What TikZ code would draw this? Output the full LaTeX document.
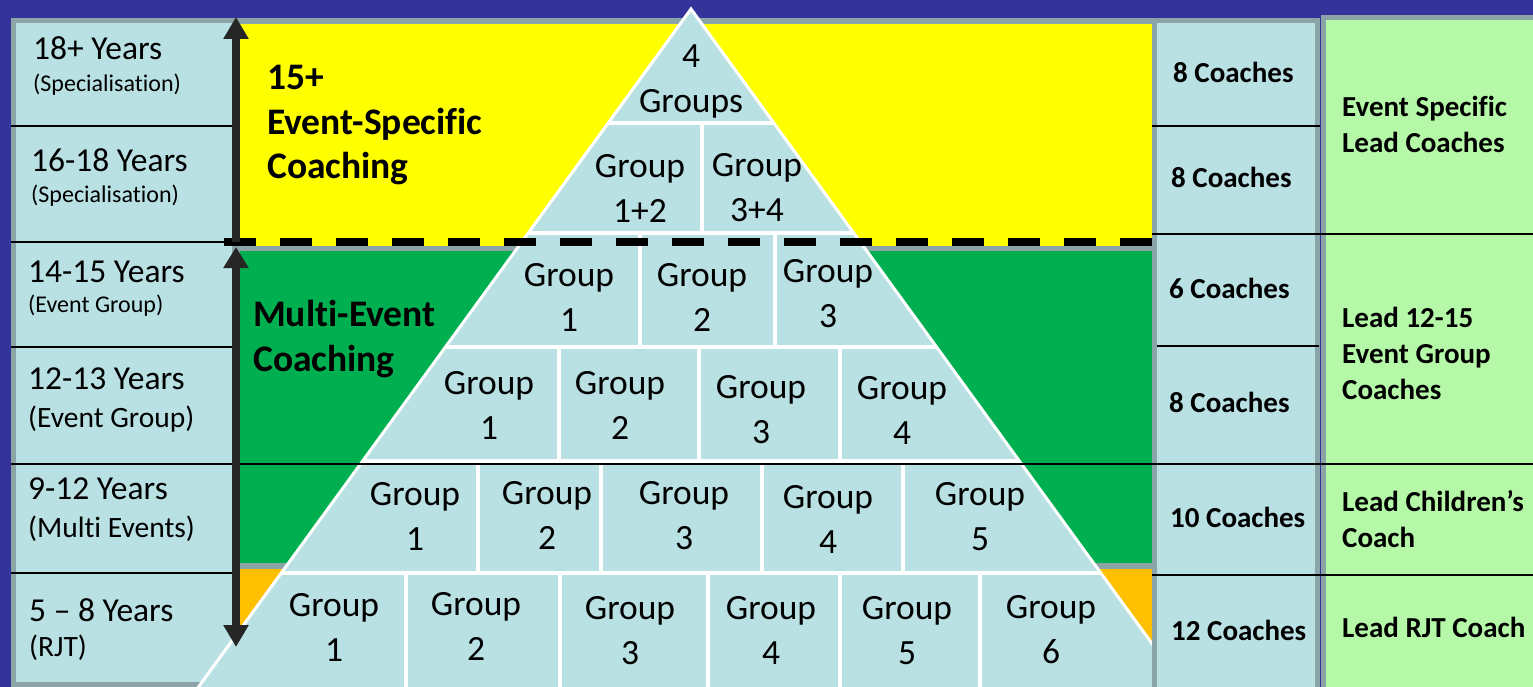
\documentclass[tikz,border=0pt]{standalone}
\usepackage{fontspec}
\setmainfont{Carlito}[Ligatures=NoCommon]
\usetikzlibrary{arrows.meta}
\definecolor{bgblue}{RGB}{51,51,153}
\definecolor{cellblue}{RGB}{185,224,227}
\definecolor{rimgray}{RGB}{139,164,168}
\definecolor{ylw}{RGB}{255,255,0}
\definecolor{grn}{RGB}{0,176,80}
\definecolor{orng}{RGB}{255,192,0}
\definecolor{lgreen}{RGB}{181,249,168}
\definecolor{arrowgray}{RGB}{38,38,38}
\tikzset{
  age/.style={anchor=base west, inner sep=0pt, font=\fontsize{33.5}{38}\selectfont},
  agesub/.style={anchor=base west, inner sep=0pt, font=\fontsize{24}{28}\selectfont},
  agesubl/.style={anchor=base west, inner sep=0pt, font=\fontsize{29.5}{34}\selectfont},
  grp/.style={align=center, inner sep=0pt, font=\fontsize{35.5}{45}\selectfont},
  band/.style={anchor=north west, align=left, inner sep=0pt, font=\fontsize{37.5}{44.5}\selectfont\bfseries},
  coach/.style={anchor=base west, inner sep=0pt, font=\fontsize{29}{34}\selectfont\bfseries},
  lead/.style={anchor=north west, align=left, inner sep=0pt, font=\fontsize{29}{36}\selectfont\bfseries},
  leadone/.style={anchor=base west, inner sep=0pt, font=\fontsize{29}{36}\selectfont\bfseries},
  rowline/.style={black, line width=1.5pt},
  wline/.style={white, line width=4pt},
  bigarrow/.style={arrowgray, line width=8pt},
}
\begin{document}
\begin{tikzpicture}[x=1pt,y=-1pt]
\useasboundingbox (0,0) rectangle (1533,687);
% background
\fill[bgblue] (0,0) rectangle (1533,687);
% left column
\fill[rimgray] (11,18) rectangle (236,687);
\fill[cellblue] (16,23) rectangle (232,682);
% middle bands
\fill[rimgray] (236,18) rectangle (1157,687);
\fill[ylw] (240,24) rectangle (1152,246);
\fill[grn] (240,251) rectangle (1152,563);
\fill[orng] (240,569) rectangle (1152,687);
% pyramid
\begin{scope}
  \clip (0,0) rectangle (1152,687);
  \fill[cellblue] (691,9) -- (189,700) -- (1193,700) -- cycle;
  \begin{scope}
    \clip (691,9) -- (189,700) -- (1193,700) -- cycle;
    \foreach \y in {123,233,347,461,573} \draw[wline] (150,\y) -- (1250,\y);
    \draw[wline] (702,123) -- (702,233);
    \foreach \x in {640,775} \draw[wline] (\x,233) -- (\x,347);
    \foreach \x in {559,699,840} \draw[wline] (\x,347) -- (\x,461);
    \foreach \x in {478,601,762,903} \draw[wline] (\x,461) -- (\x,573);
    \foreach \x in {406,560,708,840,980} \draw[wline] (\x,573) -- (\x,700);
  \end{scope}
  \draw[white, line width=3pt] (189,700) -- (691,9) -- (1193,700);
\end{scope}
% right coach column
\fill[rimgray] (1152,18) rectangle (1320,687);
\fill[cellblue] (1157,23) rectangle (1315,687);
% lead column
\fill[rimgray] (1320,15) rectangle (1533,687);
\fill[lgreen] (1326,20) rectangle (1533,687);
\draw[bgblue, line width=1pt] (1320,15) -- (1320,687);
% separator lines
\draw[rowline] (11,126) -- (232,126);
\draw[rowline] (11,242) -- (232,242);
\draw[rowline] (11,347) -- (232,347);
\draw[rowline] (11,464) -- (1533,464);
\draw[rowline] (11,573) -- (232,573);
\draw[rowline] (1152,126) -- (1320,126);
\draw[rowline] (1152,234) -- (1533,234);
\draw[rowline] (1157,346) -- (1319,346);
\draw[rowline] (1152,575) -- (1533,575);
% dashed boundary
\draw[black, line width=8pt, dash pattern=on 32pt off 24pt] (224,242) -- (1152,242);
% arrows
\coordinate (upFoot) at (236,242);
\coordinate (upTip) at (236,17);
\coordinate (dnTop) at (236,247);
\coordinate (dnTip) at (236,647);
\draw[bigarrow, -{Triangle[length=22pt,width=24pt]}] (upFoot) -- (upTip);
\draw[bigarrow, {Triangle[length=21pt,width=24pt]}-{Triangle[length=22pt,width=24pt]}] (dnTop) -- (dnTip);
% age labels
\node[age] (a1) at (33,60) {18+ Years};
\node[agesub] (a1s) at (33,92) {(Specialisation)};
\node[age] (a2) at (31,172) {16-18 Years};
\node[agesub] (a2s) at (31,203) {(Specialisation)};
\node[age] (a3) at (28,282) {14-15 Years};
\node[agesub] (a3s) at (28,312) {(Event Group)};
\node[age] (a4) at (28,389) {12-13 Years};
\node[agesubl] (a4s) at (28,427) {(Event Group)};
\node[age] (a5) at (28,499) {9-12 Years};
\node[agesubl] (a5s) at (28,537) {(Multi Events)};
\node[age] (a6) at (29,621) {5 – 8 Years};
\node[agesubl] (a6s) at (29,656) {(RJT)};
% band labels
\node[band] (bandA) at (267,65) {15+\\Event-Specific\\Coaching};
\node[band] (bandB) at (253,300) {Multi-Event\\Coaching};
% pyramid groups
\node[grp] (r1) at (691,81) {4\\Groups};
\node[grp] (r2a) at (640,188) {Group\\1+2};
\node[grp] (r2b) at (757,188) {Group\\3+4};
\node[grp] (r3a) at (569,297) {Group\\1};
\node[grp] (r3b) at (702,297) {Group\\2};
\node[grp] (r3c) at (828,294) {Group\\3};
\node[grp] (r4a) at (489,405) {Group\\1};
\node[grp] (r4b) at (620,405) {Group\\2};
\node[grp] (r4c) at (761,410) {Group\\3};
\node[grp] (r4d) at (902,410) {Group\\4};
\node[grp] (r5a) at (415,516) {Group\\1};
\node[grp] (r5b) at (547,515) {Group\\2};
\node[grp] (r5c) at (684,516) {Group\\3};
\node[grp] (r5d) at (828,519) {Group\\4};
\node[grp] (r5e) at (980,517) {Group\\5};
\node[grp] (r6a) at (334,627) {Group\\1};
\node[grp] (r6b) at (476,626) {Group\\2};
\node[grp] (r6c) at (630,631) {Group\\3};
\node[grp] (r6d) at (771,630) {Group\\4};
\node[grp] (r6e) at (907,631) {Group\\5};
\node[grp] (r6f) at (1051,630) {Group\\6};
% coach counts
\node[coach] (c1) at (1173,83) {8 Coaches};
\node[coach] (c2) at (1171,188) {8 Coaches};
\node[coach] (c3) at (1169,298) {6 Coaches};
\node[coach] (c4) at (1169,412) {8 Coaches};
\node[coach] (c5) at (1170,527) {10 Coaches};
\node[coach] (c6) at (1171,640) {12 Coaches};
% lead roles
\node[lead] (l1) at (1342,96) {Event Specific\\Lead Coaches};
\node[lead] (l2) at (1342,307) {Lead 12-15\\Event Group\\Coaches};
\node[lead] (l3) at (1342,490) {Lead Children’s\\Coach};
\node[leadone] (l4) at (1342,637) {Lead RJT Coach};
\end{tikzpicture}
\end{document}
